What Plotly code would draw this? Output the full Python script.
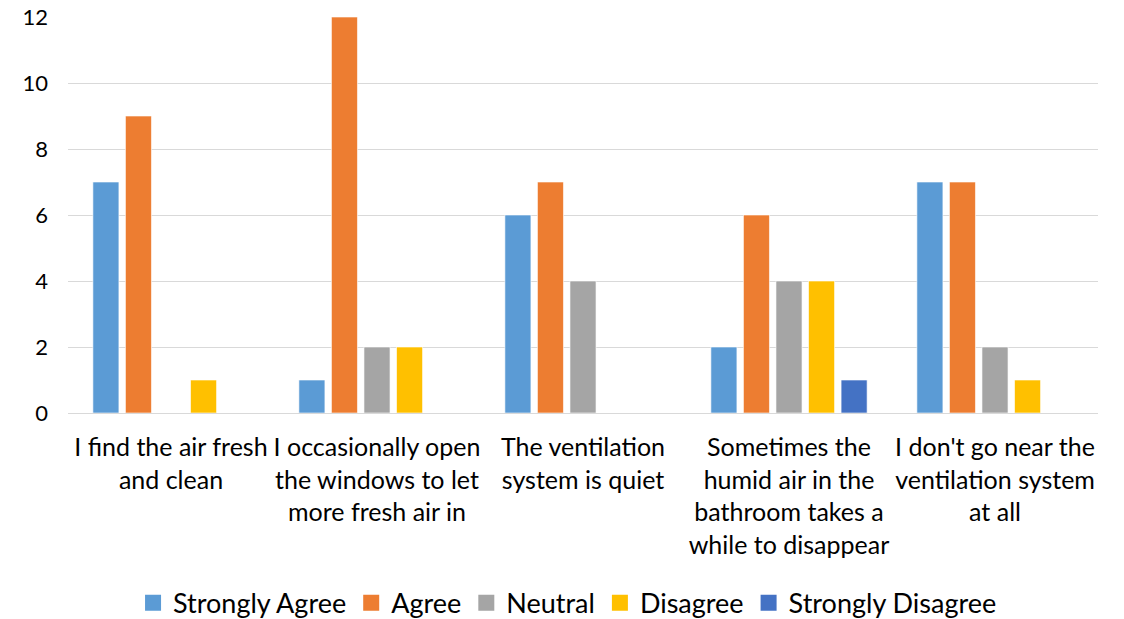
import plotly.graph_objects as go

categories = [
    "I find the air fresh<br>and clean",
    "I occasionally open<br>the windows to let<br>more fresh air in",
    "The ventilation<br>system is quiet",
    "Sometimes the<br>humid air in the<br>bathroom takes a<br>while to disappear",
    "I don't go near the<br>ventilation system<br>at all",
]
series_names = ["Strongly Agree", "Agree", "Neutral", "Disagree", "Strongly Disagree"]
strongly_agree = [7, 1, 6, 2, 7]
agree = [9, 12, 7, 6, 7]
neutral = [0, 2, 4, 4, 2]
disagree = [1, 2, 0, 4, 1]
strongly_disagree = [0, 0, 0, 1, 0]
colors = ["#5B9BD5", "#ED7D31", "#A5A5A5", "#FFC000", "#4472C4"]
y_ticks = [0, 2, 4, 6, 8, 10, 12]

FONT = "Lato"
values = [strongly_agree, agree, neutral, disagree, strongly_disagree]

fig = go.Figure()
for name, vals, col in zip(series_names, values, colors):
    fig.add_trace(go.Bar(
        x=categories, y=vals, name=name, showlegend=False,
        marker=dict(color=col, line=dict(color="rgba(255,255,255,0.6)", width=1)),
    ))
for name, col in zip(series_names, colors):
    fig.add_trace(go.Scatter(
        x=[None], y=[None], mode="markers", name=name,
        marker=dict(symbol="square", size=16, color=col),
    ))

# page body has an 8px margin; figure offset accordingly
fig.update_layout(
    width=1116, height=611,
    margin=dict(l=60, r=26, t=9, b=206, autoexpand=False),
    paper_bgcolor="white", plot_bgcolor="white",
    barmode="group", bargap=0.21, bargroupgap=0.2,
    font=dict(family=FONT, color="#000000"),
    legend=dict(
        orientation="h", x=0.485, xanchor="center", y=-0.48, yanchor="middle",
        font=dict(size=27, family=FONT, color="#000000"),
        itemsizing="trace", tracegroupgap=0,
    ),
    xaxis=dict(
        showgrid=False, showline=False, zeroline=False, automargin=False,
        tickfont=dict(size=25, family=FONT, color="#000000"),
        ticklabelstandoff=17, ticklabeloverflow="allow",
    ),
    yaxis=dict(
        range=[0, 12], tickvals=y_ticks, showgrid=True, gridcolor="#D9D9D9",
        gridwidth=1, zeroline=True, zerolinecolor="#D9D9D9", zerolinewidth=1,
        showline=False, automargin=False,
        tickfont=dict(size=22, family=FONT, color="#000000"),
        ticklabelstandoff=19, ticklabeloverflow="allow",
    ),
)

fig.write_html("out.html")
